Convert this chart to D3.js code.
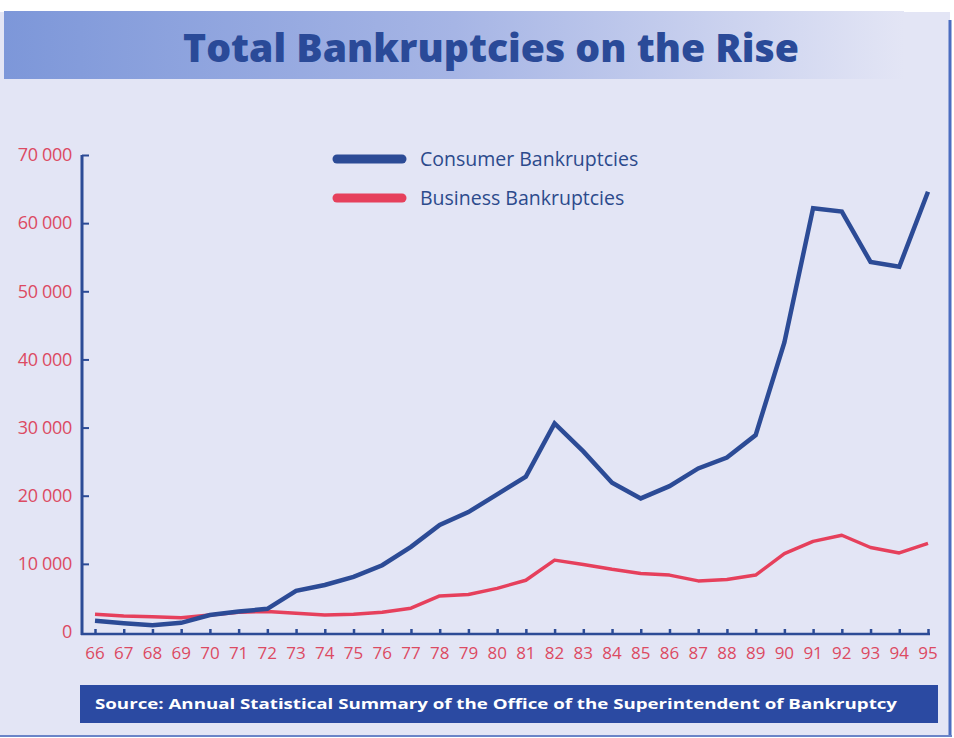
<!DOCTYPE html>
<html lang="en">
  <head>
    <meta charset="utf-8">
    <title>Total Bankruptcies on the Rise</title>
    <script src="https://cdnjs.cloudflare.com/ajax/libs/d3/7.8.5/d3.min.js"></script>
    <style>
      body { margin: 0; background: #ffffff; }
      svg { display: block; font-family: 'Open Sans', sans-serif; }
    </style>
  </head>
  <body>
    <svg></svg>
    <script>
      // data
      var years = ["66","67","68","69","70","71","72","73","74","75","76","77","78","79","80",
                   "81","82","83","84","85","86","87","88","89","90","91","92","93","94","95"];
      var consumer = [1650, 1300, 1000, 1350, 2500, 3000, 3400, 6050, 6900, 8100,
                      9800, 12500, 15700, 17600, 20200, 22800, 30600, 26500, 21900, 19600,
                      21400, 24000, 25600, 28900, 42500, 62200, 61700, 54300, 53600, 64600];
      var business = [2600, 2350, 2250, 2100, 2500, 2900, 3000, 2750, 2500, 2600,
                      2900, 3500, 5300, 5500, 6400, 7600, 10550, 9900, 9200, 8600,
                      8350, 7500, 7700, 8350, 11500, 13300, 14200, 12400, 11600, 13000];
      var yTicks = [0, 10000, 20000, 30000, 40000, 50000, 60000, 70000];
      var seriesNames = ["Consumer Bankruptcies", "Business Bankruptcies"];

      var width = 954, height = 738;
      var blue = "#2c4b96", red = "#e6405c", labelRed = "#dc4a62";

      var svg = d3.select("svg").attr("width", width).attr("height", height);

      // page background
      svg.append("rect").attr("x", 0).attr("y", 0).attr("width", width).attr("height", height)
         .attr("fill", "#ffffff");
      svg.append("rect").attr("x", 0).attr("y", 12).attr("width", 950).attr("height", 724)
         .attr("fill", "#e3e5f5");
      // right and bottom frame
      svg.append("line").attr("x1", 950).attr("x2", 950).attr("y1", 20).attr("y2", 736)
         .attr("stroke", "#4b6cc0").attr("stroke-width", 3);
      svg.append("line").attr("x1", 0).attr("x2", 952).attr("y1", 736).attr("y2", 736)
         .attr("stroke", "#6a84c8").attr("stroke-width", 2);

      // title band with gradient
      var defs = svg.append("defs");
      var grad = defs.append("linearGradient").attr("id", "band");
      grad.append("stop").attr("offset", "0%").attr("stop-color", "#7d97d9");
      grad.append("stop").attr("offset", "50%").attr("stop-color", "#a6b5e5");
      grad.append("stop").attr("offset", "100%").attr("stop-color", "#e3e5f5");
      svg.append("rect").attr("x", 4).attr("y", 11).attr("width", 900).attr("height", 68)
         .attr("fill", "url(#band)");

      svg.append("text")
         .attr("x", 491).attr("y", 62)
         .attr("text-anchor", "middle")
         .attr("fill", "#2a4a98")
         .style("font-size", "38px")
         .style("font-weight", 800)
         .attr("textLength", 616)
         .attr("lengthAdjust", "spacingAndGlyphs")
         .text("Total Bankruptcies on the Rise");

      // scales
      var x = d3.scalePoint().domain(years).range([95, 928]);
      var y = d3.scaleLinear().domain([0, 70000]).range([632, 155]);

      var fmt = d3.formatLocale({decimal: ".", thousands: " ", grouping: [3], currency: ["", ""]}).format(",");

      // y axis
      var yAxis = d3.axisRight(y).tickValues(yTicks).tickSize(7).tickFormat("");
      var gy = svg.append("g").attr("transform", "translate(82,0)").call(yAxis);
      gy.select(".domain").remove();
      gy.selectAll(".tick line").attr("stroke", blue).attr("stroke-width", 2)
        .filter(d => d === 0).remove();
      svg.append("line").attr("x1", 82).attr("x2", 82).attr("y1", 155).attr("y2", 635)
         .attr("stroke", blue).attr("stroke-width", 3);

      svg.append("g").selectAll("text").data(yTicks).enter().append("text")
         .attr("x", 72).attr("y", d => y(d)).attr("dy", "0.35em")
         .attr("text-anchor", "end")
         .attr("fill", labelRed)
         .style("font-size", "18px")
         .style("letter-spacing", "-0.3px")
         .text(d => fmt(d));

      // x axis
      var xAxis = d3.axisTop(x).tickSize(5).tickFormat("");
      var gx = svg.append("g").attr("transform", "translate(0,634)").call(xAxis);
      gx.select(".domain").remove();
      gx.selectAll(".tick line").attr("stroke", blue).attr("stroke-width", 2.5);
      svg.append("line").attr("x1", 81).attr("x2", 930).attr("y1", 634).attr("y2", 634)
         .attr("stroke", blue).attr("stroke-width", 2.5);

      svg.append("g").selectAll("text").data(years).enter().append("text")
         .attr("x", d => x(d)).attr("y", 659)
         .attr("text-anchor", "middle")
         .attr("fill", labelRed)
         .style("font-size", "17px")
         .text(d => d);

      // lines
      var line = d3.line().x((d, i) => x(years[i])).y(d => y(d));

      svg.append("path").datum(business)
         .attr("d", line).attr("fill", "none")
         .attr("stroke", red).attr("stroke-width", 3.5)
         .attr("stroke-linejoin", "round");
      svg.append("path").datum(consumer)
         .attr("d", line).attr("fill", "none")
         .attr("stroke", blue).attr("stroke-width", 4.5)
         .attr("stroke-linejoin", "miter");

      // legend
      var legend = svg.append("g");
      [blue, red].forEach(function(c, i) {
        var ly = 159 + i * 39;
        legend.append("line").attr("x1", 337).attr("x2", 402).attr("y1", ly).attr("y2", ly)
              .attr("stroke", c).attr("stroke-width", 9).attr("stroke-linecap", "round");
        legend.append("text").attr("x", 420).attr("y", ly).attr("dy", "0.35em")
              .attr("fill", "#2c4a8c").style("font-size", "19.5px")
              .text(seriesNames[i]);
      });

      // source box
      svg.append("rect").attr("x", 80).attr("y", 685).attr("width", 858).attr("height", 38)
         .attr("fill", "#2b4aa2");
      svg.append("text")
         .attr("x", 95).attr("y", 704).attr("dy", "0.35em")
         .attr("fill", "#ffffff")
         .style("font-size", "14.5px").style("font-weight", 700)
         .attr("textLength", 802).attr("lengthAdjust", "spacingAndGlyphs")
         .text("Source: Annual Statistical Summary of the Office of the Superintendent of Bankruptcy");
    </script>
  </body>
</html>
